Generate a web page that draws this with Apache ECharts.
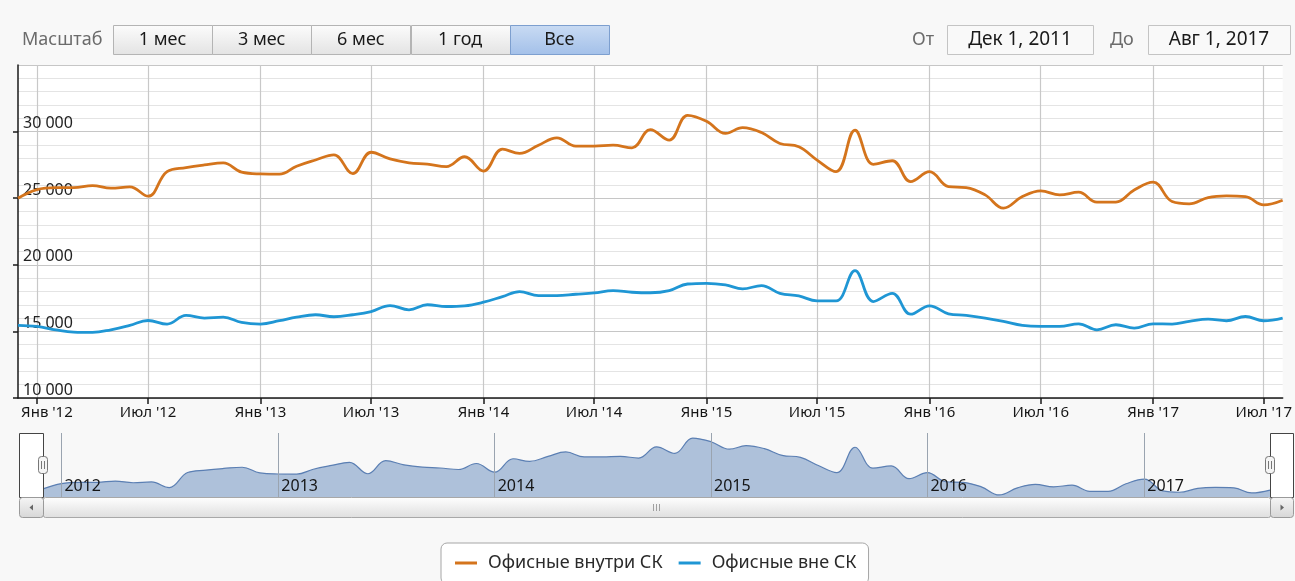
<!DOCTYPE html>
<html lang="ru">
<head>
<meta charset="utf-8">
<title>Офисные внутри СК / вне СК</title>
<script src="https://cdn.jsdelivr.net/npm/echarts@6/dist/echarts.min.js"></script>
<style>
    html, body { margin: 0; padding: 0; background: #f8f8f8; }
    #chart { width: 1295px; height: 581px; }
</style>
</head>
<body>
<div id="chart"></div>
<script>
// months of the series (first day of each month)
const months = [
    '2011-12',
    '2012-01', '2012-02', '2012-03', '2012-04', '2012-05', '2012-06', '2012-07', '2012-08', '2012-09', '2012-10', '2012-11', '2012-12',
    '2013-01', '2013-02', '2013-03', '2013-04', '2013-05', '2013-06', '2013-07', '2013-08', '2013-09', '2013-10', '2013-11', '2013-12',
    '2014-01', '2014-02', '2014-03', '2014-04', '2014-05', '2014-06', '2014-07', '2014-08', '2014-09', '2014-10', '2014-11', '2014-12',
    '2015-01', '2015-02', '2015-03', '2015-04', '2015-05', '2015-06', '2015-07', '2015-08', '2015-09', '2015-10', '2015-11', '2015-12',
    '2016-01', '2016-02', '2016-03', '2016-04', '2016-05', '2016-06', '2016-07', '2016-08', '2016-09', '2016-10', '2016-11', '2016-12',
    '2017-01', '2017-02', '2017-03', '2017-04', '2017-05', '2017-06', '2017-07', '2017-08'
];

// Офисные внутри СК
const insideValues = [
    25000,
    25650, 25800, 25800, 25950, 25750, 25850, 25150, 27000, 27300, 27500, 27650, 26950,
    26820, 26800, 27400, 27870, 28250, 26850, 28450, 27950, 27660, 27560, 27370, 28110,
    27040, 28690, 28360, 28980, 29530, 28910, 28910, 28980, 28780, 30150, 29360, 31225,
    30780, 29860, 30300, 29930, 29110, 28860, 27860, 26990, 30100, 27540, 27810, 26250,
    26990, 25870, 25800, 25250, 24250, 25120, 25550, 25250, 25450, 24700, 24700, 25620,
    26200, 24750, 24580, 25050, 25170, 25120, 24500, 24850
];

// Офисные вне СК
const outsideValues = [
    15450,
    15370, 15120, 14950, 14925, 15120, 15450, 15820, 15550, 16200, 16000, 16070, 15670,
    15550, 15800, 16070, 16250, 16100, 16250, 16490, 16940, 16620, 17000, 16870, 16920,
    17190, 17610, 17990, 17690, 17690, 17790, 17890, 18060, 17940, 17900, 18060, 18560,
    18610, 18490, 18190, 18440, 17860, 17660, 17290, 17290, 19560, 17240, 17860, 16290,
    16920, 16320, 16200, 16000, 15750, 15450, 15370, 15370, 15570, 15120, 15500, 15250,
    15570, 15550, 15750, 15920, 15800, 16120, 15800, 16000
];

const seriesNames = ['Офисные внутри СК', 'Офисные вне СК'];
const seriesColors = ['#d4741c', '#1f96d4'];

// tick labels
const mainTicks = ['2012-01', '2012-07', '2013-01', '2013-07', '2014-01', '2014-07',
                   '2015-01', '2015-07', '2016-01', '2016-07', '2017-01', '2017-07'];
const navTicks = ['2012-01', '2013-01', '2014-01', '2015-01', '2016-01', '2017-01'];
const monthNames = ['Янв', 'Фев', 'Мар', 'Апр', 'Май', 'Июн', 'Июл', 'Авг', 'Сен', 'Окт', 'Ноя', 'Дек'];

// range selector texts
const rangeButtons = ['1 мес', '3 мес', '6 мес', '1 год', 'Все'];
const rangeFrom = 'Дек 1, 2011';
const rangeTo = 'Авг 1, 2017';

const FONT = '"Noto Sans", "Open Sans", sans-serif';

function toTime(s) {
    return new Date(+s.slice(0, 4), +s.slice(5, 7) - 1, 1).getTime();
}

function fmtThousands(v) {
    return String(v).replace(/\B(?=(\d{3})+(?!\d))/g, ' ');
}

document.addEventListener('DOMContentLoaded', function() {
    const chart = echarts.init(document.getElementById('chart'));

    const times = months.map(toTime);
    const insideData = times.map((t, i) => [t, insideValues[i]]);
    const outsideData = times.map((t, i) => [t, outsideValues[i]]);
    const xMin = toTime('2011-12');
    const xMax = toTime('2017-08');
    const firstTick = toTime(mainTicks[0]);

    const grad = (c1, c2) => new echarts.graphic.LinearGradient(0, 0, 0, 1, [
        { offset: 0, color: c1 }, { offset: 1, color: c2 }
    ]);

    // --- range selector (buttons + dates) ---
    const graphics = [];
    graphics.push({
        type: 'text', x: 22, y: 40, z: 100,
        style: { text: 'Масштаб', fill: '#6b6b6b', font: '18px ' + FONT, verticalAlign: 'middle' }
    });
    rangeButtons.forEach((label, i) => {
        const x = 113 + i * 99.2;
        const selected = i === rangeButtons.length - 1;
        graphics.push({
            type: 'rect', z: 100,
            shape: { x: Math.round(x) + 0.5, y: 25.5, width: 99, height: 29 },
            style: {
                fill: selected ? grad('#c9dbf3', '#a3c0e9') : grad('#fcfcfc', '#e3e3e3'),
                stroke: selected ? '#7d9fcf' : '#b4b4b4', lineWidth: 1
            }
        });
        graphics.push({
            type: 'text', z: 101, x: x + 49.5, y: 40,
            style: { text: label, fill: '#1a1a1a', font: '18px ' + FONT, align: 'center', verticalAlign: 'middle' }
        });
    });
    [['От', 912, 947, 146, rangeFrom], ['До', 1110, 1148, 142, rangeTo]].forEach(d => {
        graphics.push({
            type: 'text', x: d[1], y: 40, z: 100,
            style: { text: d[0], fill: '#6b6b6b', font: '18px ' + FONT, verticalAlign: 'middle' }
        });
        graphics.push({
            type: 'rect', z: 100,
            shape: { x: d[2] + 0.5, y: 25.5, width: d[3], height: 29 },
            style: { fill: '#f9f9f9', stroke: '#c4c4c4', lineWidth: 1 }
        });
        graphics.push({
            type: 'text', x: d[2] + d[3] / 2, y: 40, z: 101,
            style: { text: d[4], fill: '#1a1a1a', font: '19px ' + FONT, align: 'center', verticalAlign: 'middle' }
        });
    });

    // --- navigator outline boxes and handles ---
    [[19, 24], [1270, 23]].forEach(b => {
        graphics.push({
            type: 'rect', z: 100,
            shape: { x: b[0] + 0.5, y: 433.5, width: b[1], height: 64 },
            style: { fill: '#ffffff', stroke: '#444', lineWidth: 1 }
        });
    });
    [43, 1270].forEach(hx => {
        graphics.push({
            type: 'rect', z: 102,
            shape: { x: hx - 4.5, y: 456.5, width: 9, height: 17, r: 3 },
            style: { fill: '#f4f4f4', stroke: '#777', lineWidth: 1 }
        });
        [-1.5, 1.5].forEach(dx => {
            graphics.push({
                type: 'line', z: 103,
                shape: { x1: hx + dx, y1: 461, x2: hx + dx, y2: 469 },
                style: { stroke: '#777', lineWidth: 1 }
            });
        });
    });

    // --- scrollbar ---
    graphics.push({
        type: 'rect', z: 100,
        shape: { x: 43.5, y: 497.5, width: 1227, height: 20, r: 2 },
        style: { fill: grad('#ffffff', '#dedede'), stroke: '#a8a8a8', lineWidth: 1 }
    });
    [[19.5, 24, -1], [1270.5, 23, 1]].forEach(b => {
        graphics.push({
            type: 'rect', z: 101,
            shape: { x: b[0], y: 497.5, width: b[1], height: 20, r: 3 },
            style: { fill: grad('#f6f6f6', '#d6d6d6'), stroke: '#9a9a9a', lineWidth: 1 }
        });
        const cx = b[0] + b[1] / 2;
        graphics.push({
            type: 'polygon', z: 102,
            shape: { points: b[2] < 0
                ? [[cx - 2, 507.5], [cx + 1.5, 504.5], [cx + 1.5, 510.5]]
                : [[cx + 2, 507.5], [cx - 1.5, 504.5], [cx - 1.5, 510.5]] },
            style: { fill: '#666' }
        });
    });
    [-3, 0, 3].forEach(dx => {
        graphics.push({
            type: 'line', z: 102,
            shape: { x1: 656.5 + dx, y1: 504, x2: 656.5 + dx, y2: 511 },
            style: { stroke: '#a0a0a0', lineWidth: 1 }
        });
    });

    const option = {
        animation: false,
        backgroundColor: '#f8f8f8',
        textStyle: { fontFamily: FONT },
        legend: {
            data: seriesNames,
            left: 441,
            top: 543,
            icon: 'rect',
            itemWidth: 22,
            itemHeight: 3,
            itemGap: 16,
            padding: [11, 12, 12, 14],
            backgroundColor: '#ffffff',
            borderColor: '#a6a6a6',
            borderWidth: 1,
            borderRadius: 6,
            textStyle: { fontSize: 18, color: '#2a2a2a', fontFamily: FONT, padding: [0, 0, 0, 6] }
        },
        grid: [
            { left: 18, right: 2, top: 65, height: 333, show: true, backgroundColor: '#ffffff', borderWidth: 0 },
            { left: 43, right: 25, top: 433, height: 64, show: false }
        ],
        xAxis: [
            {
                type: 'value',
                gridIndex: 0,
                min: xMin,
                max: xMax,
                axisLine: { show: true, lineStyle: { color: '#1a1a1a', width: 1.5 } },
                axisTick: {
                    show: true, length: 6, customValues: mainTicks.map(toTime),
                    lineStyle: { color: '#1a1a1a', width: 1.5 }
                },
                axisLabel: {
                    customValues: mainTicks.map(toTime),
                    margin: 7,
                    fontSize: 15,
                    color: '#151515',
                    fontFamily: FONT,
                    formatter: function(v) {
                        const d = new Date(v);
                        const text = monthNames[d.getMonth()] + " '" + String(d.getFullYear()).slice(2);
                        // first label is kept inside the plot, like in the original
                        return v === firstTick ? '{first|' + text + '}' : text;
                    },
                    rich: {
                        first: { fontSize: 15, color: '#151515', fontFamily: FONT, padding: [0, 0, 0, 20] }
                    }
                },
                splitLine: { show: true, lineStyle: { color: '#c8c8c8', width: 1.2 } }
            },
            {
                type: 'value',
                gridIndex: 1,
                min: xMin,
                max: xMax,
                z: 10,
                axisLine: { show: false },
                axisTick: { show: false, customValues: navTicks.map(toTime) },
                axisLabel: {
                    customValues: navTicks.map(toTime),
                    inside: true,
                    margin: 3,
                    align: 'left',
                    padding: [0, 0, 0, 3],
                    fontSize: 16,
                    color: '#151515',
                    fontFamily: FONT,
                    formatter: function(v) { return String(new Date(v).getFullYear()); }
                },
                splitLine: { show: true, lineStyle: { color: '#9aa4b0', width: 1 } }
            }
        ],
        yAxis: [
            {
                type: 'value',
                gridIndex: 0,
                min: 10000,
                max: 35000,
                interval: 5000,
                axisLine: { show: true, lineStyle: { color: '#1a1a1a', width: 1.5 } },
                axisTick: { show: true, length: 5, lineStyle: { color: '#1a1a1a', width: 1.5 } },
                axisLabel: {
                    inside: true,
                    margin: 5,
                    showMaxLabel: false,
                    verticalAlign: 'bottom',
                    fontSize: 16,
                    color: '#222',
                    fontFamily: FONT,
                    formatter: fmtThousands
                },
                splitLine: { show: true, lineStyle: { color: '#c6c6c6', width: 1.2 } },
                minorTick: { show: false, splitNumber: 5 },
                minorSplitLine: { show: true, lineStyle: { color: '#e4e4e4', width: 1.2 } }
            },
            {
                type: 'value',
                gridIndex: 1,
                min: 24000,
                max: 31850,
                show: false
            }
        ],
        series: [
            {
                name: seriesNames[0],
                type: 'line',
                xAxisIndex: 0,
                yAxisIndex: 0,
                data: insideData,
                smooth: 0.4,
                showSymbol: false,
                color: seriesColors[0],
                lineStyle: { width: 2.8, color: seriesColors[0] },
                z: 3
            },
            {
                name: seriesNames[1],
                type: 'line',
                xAxisIndex: 0,
                yAxisIndex: 0,
                data: outsideData,
                smooth: 0.4,
                showSymbol: false,
                color: seriesColors[1],
                lineStyle: { width: 2.8, color: seriesColors[1] },
                z: 3
            },
            {
                // navigator series
                name: 'navigator',
                type: 'line',
                xAxisIndex: 1,
                yAxisIndex: 1,
                data: insideData,
                smooth: 0.4,
                showSymbol: false,
                silent: true,
                lineStyle: { width: 1.2, color: '#5b7fb3' },
                areaStyle: { color: '#aec1da', opacity: 1 }
            }
        ],
        graphic: graphics
    };

    chart.setOption(option);
});
</script>
</body>
</html>
